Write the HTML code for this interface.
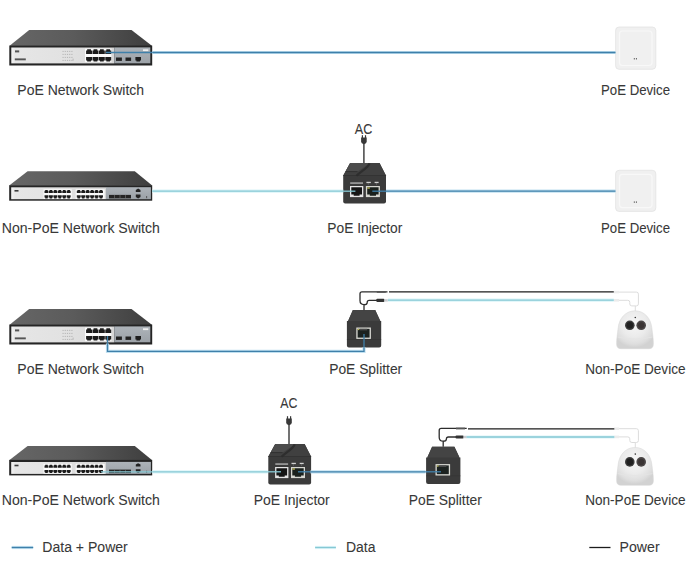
<!DOCTYPE html>
<html><head><meta charset="utf-8">
<style>
html,body{margin:0;padding:0;background:#fff;width:696px;height:583px;overflow:hidden}
svg{display:block}
text{font-family:"Liberation Sans",sans-serif;font-size:14px;fill:#383838;stroke:#383838;stroke-width:0.08px}
</style></head><body>
<svg width="696" height="583" viewBox="0 0 696 583">
<defs>
<linearGradient id="topg" x1="0" y1="0" x2="1" y2="0">
<stop offset="0" stop-color="#666666"/><stop offset="0.45" stop-color="#5b5b5b"/><stop offset="1" stop-color="#3e3e3e"/>
</linearGradient>
<linearGradient id="silver" x1="0" y1="0" x2="1" y2="0">
<stop offset="0" stop-color="#f4f4f4"/><stop offset="0.04" stop-color="#e6e6e6"/><stop offset="0.5" stop-color="#e2e2e2"/><stop offset="1" stop-color="#d6d6d6"/>
</linearGradient>
<linearGradient id="grayp" x1="0" y1="0" x2="0" y2="1">
<stop offset="0" stop-color="#adb3b9"/><stop offset="1" stop-color="#9ca2a8"/>
</linearGradient>
<radialGradient id="dome" cx="0.48" cy="0.35" r="0.62">
<stop offset="0" stop-color="#f6f6f6"/><stop offset="0.55" stop-color="#ebebeb"/><stop offset="0.85" stop-color="#dedede"/><stop offset="1" stop-color="#d2d2d2"/>
</radialGradient>
</defs>
<g><polygon points="29.2,30.1 131.5,30.1 152.2,46.1 9.3,46.1" fill="url(#topg)"/>
<rect x="9.3" y="45.6" width="142.9" height="19.9" fill="#252525"/>
<rect x="11.3" y="47.5" width="103" height="15.9" fill="url(#silver)"/>
<rect x="114.3" y="47.4" width="36" height="15.9" fill="url(#grayp)"/>
<rect x="85" y="48.6" width="26.4" height="13.6" fill="#fbfbfb"/>
<path d="M86.10,50.40 H87.16 V49.30 H90.94 V50.40 H92.00 V54.00 H86.10 Z" fill="#1c1c1c"/>
<path d="M86.10,57.00 H92.00 V60.50 H90.94 V61.60 H87.16 V60.50 H86.10 Z" fill="#1c1c1c"/>
<path d="M92.50,50.40 H93.56 V49.30 H97.34 V50.40 H98.40 V54.00 H92.50 Z" fill="#1c1c1c"/>
<path d="M92.50,57.00 H98.40 V60.50 H97.34 V61.60 H93.56 V60.50 H92.50 Z" fill="#1c1c1c"/>
<path d="M98.90,50.40 H99.96 V49.30 H103.74 V50.40 H104.80 V54.00 H98.90 Z" fill="#1c1c1c"/>
<path d="M98.90,57.00 H104.80 V60.50 H103.74 V61.60 H99.96 V60.50 H98.90 Z" fill="#1c1c1c"/>
<path d="M105.30,50.40 H106.36 V49.30 H110.14 V50.40 H111.20 V54.00 H105.30 Z" fill="#1c1c1c"/>
<path d="M105.30,57.00 H111.20 V60.50 H110.14 V61.60 H106.36 V60.50 H105.30 Z" fill="#1c1c1c"/>
<rect x="116" y="57.5" width="5.9" height="3.4" fill="#222"/>
<rect x="125.5" y="57.5" width="5.6" height="3.4" fill="#222"/>
<path d="M135.40,56.90 H141.00 V60.40 H139.99 V61.50 H136.41 V60.40 H135.40 Z" fill="#1e1e1e"/>
<rect x="143" y="49.3" width="5.3" height="1.8" fill="#f0f0f0"/>
<rect x="15" y="50.4" width="4.2" height="2" fill="#555"/>
<rect x="14.8" y="58.4" width="11" height="1.9" fill="#555"/>
<rect x="62.5" y="50.9" width="1.2" height="0.9" fill="#b0b0b0"/>
<rect x="64.7" y="50.9" width="1.2" height="0.9" fill="#b0b0b0"/>
<rect x="66.9" y="50.9" width="1.2" height="0.9" fill="#b0b0b0"/>
<rect x="69.1" y="50.9" width="1.2" height="0.9" fill="#b0b0b0"/>
<rect x="71.3" y="50.9" width="1.2" height="0.9" fill="#b0b0b0"/>
<rect x="62.5" y="53.9" width="1.2" height="0.9" fill="#b0b0b0"/>
<rect x="64.7" y="53.9" width="1.2" height="0.9" fill="#b0b0b0"/>
<rect x="66.9" y="53.9" width="1.2" height="0.9" fill="#b0b0b0"/>
<rect x="69.1" y="53.9" width="1.2" height="0.9" fill="#b0b0b0"/>
<rect x="71.3" y="53.9" width="1.2" height="0.9" fill="#b0b0b0"/>
<rect x="62.5" y="56.9" width="1.2" height="0.9" fill="#b0b0b0"/>
<rect x="64.7" y="56.9" width="1.2" height="0.9" fill="#b0b0b0"/>
<rect x="66.9" y="56.9" width="1.2" height="0.9" fill="#b0b0b0"/>
<rect x="69.1" y="56.9" width="1.2" height="0.9" fill="#b0b0b0"/>
<rect x="71.3" y="56.9" width="1.2" height="0.9" fill="#b0b0b0"/>
<rect x="62.5" y="59.9" width="1.2" height="0.9" fill="#b0b0b0"/>
<rect x="64.7" y="59.9" width="1.2" height="0.9" fill="#b0b0b0"/>
<rect x="66.9" y="59.9" width="1.2" height="0.9" fill="#b0b0b0"/>
<rect x="69.1" y="59.9" width="1.2" height="0.9" fill="#b0b0b0"/>
<rect x="71.3" y="59.9" width="1.2" height="0.9" fill="#b0b0b0"/>
<rect x="72.6" y="58.6" width="1" height="2.2" fill="#b8b8b8"/></g>
<g><rect x="615.6" y="27" width="40.2" height="42.3" rx="3.5" fill="#f0f0f0" stroke="#e2e2e2" stroke-width="0.8"/>
<rect x="619.5" y="31" width="32.5" height="34.5" rx="3" fill="none" stroke="#f8f8f8" stroke-width="1.2"/>
<rect x="633.8" y="58.2" width="1.1" height="1.2" fill="#505050"/><rect x="635.9" y="58.2" width="1.1" height="1.2" fill="#505050"/></g>
<line x1="106" y1="52.5" x2="152.2" y2="52.5" stroke="#3f80aa" stroke-width="1.3"/>
<line x1="152.2" y1="52.5" x2="615.5" y2="52.5" stroke="#c0e0f0" stroke-width="3.2"/><line x1="152.2" y1="52.5" x2="615.5" y2="52.5" stroke="#3f80aa" stroke-width="1.3"/>
<text x="17.3" y="94.7" textLength="126.8" lengthAdjust="spacingAndGlyphs">PoE Network Switch</text>
<text x="601" y="94.7" textLength="69" lengthAdjust="spacingAndGlyphs">PoE Device</text>
<g><polygon points="27.6,171.3 134.8,171.3 152.2,185.5 9.2,185.5" fill="url(#topg)"/>
<rect x="9.2" y="185.2" width="143" height="15.5" fill="#252525"/>
<rect x="11.2" y="187.3" width="95" height="11.9" fill="url(#silver)"/>
<rect x="106" y="187.2" width="44.9" height="12" fill="url(#grayp)"/>
<rect x="43.5" y="189.2" width="28.2" height="9.8" fill="#fafafa"/>
<rect x="75.7" y="189.2" width="29" height="9.8" fill="#fafafa"/>
<path d="M44.50,190.80 H45.20 V190.00 H47.70 V190.80 H48.40 V193.00 H44.50 Z" fill="#1c1c1c"/>
<path d="M44.50,195.30 H48.40 V197.60 H47.70 V198.40 H45.20 V197.60 H44.50 Z" fill="#1c1c1c"/>
<path d="M48.95,190.80 H49.65 V190.00 H52.15 V190.80 H52.85 V193.00 H48.95 Z" fill="#1c1c1c"/>
<path d="M48.95,195.30 H52.85 V197.60 H52.15 V198.40 H49.65 V197.60 H48.95 Z" fill="#1c1c1c"/>
<path d="M53.40,190.80 H54.10 V190.00 H56.60 V190.80 H57.30 V193.00 H53.40 Z" fill="#1c1c1c"/>
<path d="M53.40,195.30 H57.30 V197.60 H56.60 V198.40 H54.10 V197.60 H53.40 Z" fill="#1c1c1c"/>
<path d="M57.85,190.80 H58.55 V190.00 H61.05 V190.80 H61.75 V193.00 H57.85 Z" fill="#1c1c1c"/>
<path d="M57.85,195.30 H61.75 V197.60 H61.05 V198.40 H58.55 V197.60 H57.85 Z" fill="#1c1c1c"/>
<path d="M62.30,190.80 H63.00 V190.00 H65.50 V190.80 H66.20 V193.00 H62.30 Z" fill="#1c1c1c"/>
<path d="M62.30,195.30 H66.20 V197.60 H65.50 V198.40 H63.00 V197.60 H62.30 Z" fill="#1c1c1c"/>
<path d="M66.75,190.80 H67.45 V190.00 H69.95 V190.80 H70.65 V193.00 H66.75 Z" fill="#1c1c1c"/>
<path d="M66.75,195.30 H70.65 V197.60 H69.95 V198.40 H67.45 V197.60 H66.75 Z" fill="#1c1c1c"/>
<path d="M76.80,190.80 H77.50 V190.00 H80.00 V190.80 H80.70 V193.00 H76.80 Z" fill="#1c1c1c"/>
<path d="M76.80,195.30 H80.70 V197.60 H80.00 V198.40 H77.50 V197.60 H76.80 Z" fill="#1c1c1c"/>
<path d="M81.25,190.80 H81.95 V190.00 H84.45 V190.80 H85.15 V193.00 H81.25 Z" fill="#1c1c1c"/>
<path d="M81.25,195.30 H85.15 V197.60 H84.45 V198.40 H81.95 V197.60 H81.25 Z" fill="#1c1c1c"/>
<path d="M85.70,190.80 H86.40 V190.00 H88.90 V190.80 H89.60 V193.00 H85.70 Z" fill="#1c1c1c"/>
<path d="M85.70,195.30 H89.60 V197.60 H88.90 V198.40 H86.40 V197.60 H85.70 Z" fill="#1c1c1c"/>
<path d="M90.15,190.80 H90.85 V190.00 H93.35 V190.80 H94.05 V193.00 H90.15 Z" fill="#1c1c1c"/>
<path d="M90.15,195.30 H94.05 V197.60 H93.35 V198.40 H90.85 V197.60 H90.15 Z" fill="#1c1c1c"/>
<path d="M94.60,190.80 H95.30 V190.00 H97.80 V190.80 H98.50 V193.00 H94.60 Z" fill="#1c1c1c"/>
<path d="M94.60,195.30 H98.50 V197.60 H97.80 V198.40 H95.30 V197.60 H94.60 Z" fill="#1c1c1c"/>
<path d="M99.05,190.80 H99.75 V190.00 H102.25 V190.80 H102.95 V193.00 H99.05 Z" fill="#1c1c1c"/>
<path d="M99.05,195.30 H102.95 V197.60 H102.25 V198.40 H99.75 V197.60 H99.05 Z" fill="#1c1c1c"/>
<rect x="109" y="194.9" width="22" height="3.5" fill="#242424"/>
<rect x="114.2" y="194.9" width="0.6" height="3.5" fill="#777"/>
<rect x="119.7" y="194.9" width="0.6" height="3.5" fill="#777"/>
<rect x="125.2" y="194.9" width="0.6" height="3.5" fill="#777"/>
<path d="M135.8,191.9 H140.5 V189.9 L138.15,188.5 L135.8,189.9 Z" fill="#222"/>
<path d="M135.8,194.5 H140.5 V197 L138.15,198.4 L135.8,197 Z" fill="#222"/>
<rect x="146.3" y="196" width="0.8" height="2.2" fill="#444"/>
<rect x="14.5" y="190" width="4" height="1.6" fill="#3a3a3a"/></g>
<g><path d="M363.9,142 V163.5" stroke="#444" stroke-width="1.5" fill="none"/>
<path d="M361.1,137.6 H366.7 V141.8 Q366.7,143.6 363.9,144.2 Q361.1,143.6 361.1,141.8 Z" fill="#383838"/>
<rect x="361.8" y="135.2" width="1.2" height="2.8" fill="#3a3a3a"/><rect x="364.9" y="135.2" width="1.2" height="2.8" fill="#3a3a3a"/>
<path d="M350.3,163.1 H379.6 L386,175.6 V201.6 Q386,203.6 384,203.6 H345.2 Q343.2,203.6 343.2,201.6 V175.6 Z" fill="#3b3b3b"/>
<path d="M350.1,163.1 H379.4 L386,175.8 H343.2 Z" fill="#404040"/>
<path d="M350.1,163.1 H369.5 C366.5,166 360.5,169.5 357.5,171.6 H345.6 Z" fill="#4c4c4c"/>
<path d="M345.6,171.6 H357.5" stroke="#2c2c2c" stroke-width="0.8"/>
<path d="M369.5,163.3 C368,168 361,171 356.5,175.8" stroke="#2e2e2e" stroke-width="2.2" fill="none"/>
<rect x="343.2" y="175.3" width="42.8" height="0.6" fill="#2c2c2c"/>
<rect x="350" y="186" width="13.3" height="11.1" fill="#e4e4e4"/>
<path d="M351.3,187.3 H362 V194.6 H359.6 V195.8 H353.7 V194.6 H351.3 Z" fill="#151515"/>
<rect x="365.9" y="186" width="14" height="11.1" fill="#d6d6d0"/>
<path d="M367.2,187.3 H378.6 V194.6 H376 V195.8 H369.8 V194.6 H367.2 Z" fill="#1a201c"/>
<rect x="367.2" y="187.3" width="2.6" height="1.4" fill="#b8b45a"/>
<g fill="#d0d0d0"><rect x="350.2" y="182.5" width="12.8" height="1.1"/><rect x="366.4" y="181.8" width="4.4" height="1.3"/><rect x="374.6" y="181.8" width="4" height="1.3"/></g><g fill="#888"><rect x="367.8" y="183.6" width="1" height="0.8"/><rect x="376" y="183.6" width="1" height="0.8"/></g></g>
<g><rect x="615.6" y="170.3" width="40.2" height="41.1" rx="3.5" fill="#f0f0f0" stroke="#e2e2e2" stroke-width="0.8"/>
<rect x="619.5" y="174.3" width="32.5" height="33.300000000000004" rx="3" fill="none" stroke="#f8f8f8" stroke-width="1.2"/>
<rect x="633.8" y="201.5" width="1.1" height="1.2" fill="#505050"/><rect x="635.9" y="201.5" width="1.1" height="1.2" fill="#505050"/></g>
<line x1="152.2" y1="191.2" x2="343.2" y2="191.2" stroke="#daf4f8" stroke-width="3.2"/><line x1="152.2" y1="191.2" x2="343.2" y2="191.2" stroke="#86c8d4" stroke-width="1.3"/>
<line x1="343.2" y1="191.2" x2="355.4" y2="191.2" stroke="#86c8d4" stroke-width="1.3"/>
<line x1="372.3" y1="191.2" x2="386" y2="191.2" stroke="#3f80aa" stroke-width="1.3"/>
<line x1="386" y1="191.2" x2="615.5" y2="191.2" stroke="#c0e0f0" stroke-width="3.2"/><line x1="386" y1="191.2" x2="615.5" y2="191.2" stroke="#3f80aa" stroke-width="1.3"/>
<text x="354.8" y="133.9" textLength="17.5" lengthAdjust="spacingAndGlyphs">AC</text>
<text x="1.8" y="233.3" textLength="158" lengthAdjust="spacingAndGlyphs">Non-PoE Network Switch</text>
<text x="327.3" y="232.8" textLength="75" lengthAdjust="spacingAndGlyphs">PoE Injector</text>
<text x="601" y="232.6" textLength="69" lengthAdjust="spacingAndGlyphs">PoE Device</text>
<g transform="translate(0,279)"><polygon points="29.2,30.1 131.5,30.1 152.2,46.1 9.3,46.1" fill="url(#topg)"/>
<rect x="9.3" y="45.6" width="142.9" height="19.9" fill="#252525"/>
<rect x="11.3" y="47.5" width="103" height="15.9" fill="url(#silver)"/>
<rect x="114.3" y="47.4" width="36" height="15.9" fill="url(#grayp)"/>
<rect x="85" y="48.6" width="26.4" height="13.6" fill="#fbfbfb"/>
<path d="M86.10,50.40 H87.16 V49.30 H90.94 V50.40 H92.00 V54.00 H86.10 Z" fill="#1c1c1c"/>
<path d="M86.10,57.00 H92.00 V60.50 H90.94 V61.60 H87.16 V60.50 H86.10 Z" fill="#1c1c1c"/>
<path d="M92.50,50.40 H93.56 V49.30 H97.34 V50.40 H98.40 V54.00 H92.50 Z" fill="#1c1c1c"/>
<path d="M92.50,57.00 H98.40 V60.50 H97.34 V61.60 H93.56 V60.50 H92.50 Z" fill="#1c1c1c"/>
<path d="M98.90,50.40 H99.96 V49.30 H103.74 V50.40 H104.80 V54.00 H98.90 Z" fill="#1c1c1c"/>
<path d="M98.90,57.00 H104.80 V60.50 H103.74 V61.60 H99.96 V60.50 H98.90 Z" fill="#1c1c1c"/>
<path d="M105.30,50.40 H106.36 V49.30 H110.14 V50.40 H111.20 V54.00 H105.30 Z" fill="#1c1c1c"/>
<path d="M105.30,57.00 H111.20 V60.50 H110.14 V61.60 H106.36 V60.50 H105.30 Z" fill="#1c1c1c"/>
<rect x="116" y="57.5" width="5.9" height="3.4" fill="#222"/>
<rect x="125.5" y="57.5" width="5.6" height="3.4" fill="#222"/>
<path d="M135.40,56.90 H141.00 V60.40 H139.99 V61.50 H136.41 V60.40 H135.40 Z" fill="#1e1e1e"/>
<rect x="143" y="49.3" width="5.3" height="1.8" fill="#f0f0f0"/>
<rect x="15" y="50.4" width="4.2" height="2" fill="#555"/>
<rect x="14.8" y="58.4" width="11" height="1.9" fill="#555"/>
<rect x="62.5" y="50.9" width="1.2" height="0.9" fill="#b0b0b0"/>
<rect x="64.7" y="50.9" width="1.2" height="0.9" fill="#b0b0b0"/>
<rect x="66.9" y="50.9" width="1.2" height="0.9" fill="#b0b0b0"/>
<rect x="69.1" y="50.9" width="1.2" height="0.9" fill="#b0b0b0"/>
<rect x="71.3" y="50.9" width="1.2" height="0.9" fill="#b0b0b0"/>
<rect x="62.5" y="53.9" width="1.2" height="0.9" fill="#b0b0b0"/>
<rect x="64.7" y="53.9" width="1.2" height="0.9" fill="#b0b0b0"/>
<rect x="66.9" y="53.9" width="1.2" height="0.9" fill="#b0b0b0"/>
<rect x="69.1" y="53.9" width="1.2" height="0.9" fill="#b0b0b0"/>
<rect x="71.3" y="53.9" width="1.2" height="0.9" fill="#b0b0b0"/>
<rect x="62.5" y="56.9" width="1.2" height="0.9" fill="#b0b0b0"/>
<rect x="64.7" y="56.9" width="1.2" height="0.9" fill="#b0b0b0"/>
<rect x="66.9" y="56.9" width="1.2" height="0.9" fill="#b0b0b0"/>
<rect x="69.1" y="56.9" width="1.2" height="0.9" fill="#b0b0b0"/>
<rect x="71.3" y="56.9" width="1.2" height="0.9" fill="#b0b0b0"/>
<rect x="62.5" y="59.9" width="1.2" height="0.9" fill="#b0b0b0"/>
<rect x="64.7" y="59.9" width="1.2" height="0.9" fill="#b0b0b0"/>
<rect x="66.9" y="59.9" width="1.2" height="0.9" fill="#b0b0b0"/>
<rect x="69.1" y="59.9" width="1.2" height="0.9" fill="#b0b0b0"/>
<rect x="71.3" y="59.9" width="1.2" height="0.9" fill="#b0b0b0"/>
<rect x="72.6" y="58.6" width="1" height="2.2" fill="#b8b8b8"/></g>
<g><path d="M352.9,310.1 H375.2 L380.3,320.9 H381.2 V345.5 Q381.2,347.5 379.2,347.5 H348.9 Q346.9,347.5 346.9,345.5 V320.9 H348.1 Z" fill="#3b3b3b"/>
<path d="M352.9,310.1 H375.2 L380.3,320.9 H348.1 Z" fill="#444444"/>
<rect x="346.9" y="339" width="34.3" height="0.6" fill="#333"/>
<rect x="356.3" y="327.5" width="14.6" height="11.4" fill="#dcdcd6"/>
<path d="M357.6,328.8 H369.6 V337.6 H357.6 Z" fill="#1c2220"/>
<path d="M360,328.8 H367.2 V330.4 H360 Z" fill="#4a4a4a"/>
<rect x="357.6" y="328.8" width="1.8" height="1.3" fill="#b8b45a"/>
<path d="M364,310.2 V304.6 M364,304.6 Q360,304.6 360,300.6 V293.8 Q360,291.8 362,291.8 H387.5 M364,304.6 Q367.2,304.6 367.2,302.4 Q367.2,300.4 369.2,300.4 H377" stroke="#2c2c2c" stroke-width="1.3" fill="none"/>
<rect x="376.3" y="298.8" width="8.2" height="3.1" rx="1" fill="#333"/>
<rect x="376.8" y="291" width="9" height="1.8" fill="#555"/>
<rect x="384.3" y="299.2" width="3.5" height="2.4" fill="#c8ccd0"/></g>
<g><path d="M635,310.8 C644.5,310.8 650.8,318.5 651.8,327.5 C652.6,334 653.5,339.5 653.4,344.3 Q653.2,348.7 649.2,348.7 H620.8 Q616.8,348.7 616.6,344.3 C616.5,339.5 617.4,334 618.2,327.5 C619.2,318.5 625.5,310.8 635,310.8 Z" fill="url(#dome)" stroke="#d6d6d6" stroke-width="0.5"/>
<path d="M617.5,337 Q635,341 652.5,337" stroke="#e4e4e4" stroke-width="0.8" fill="none"/>
<circle cx="629.8" cy="325.3" r="4.8" fill="#3a3a3a"/>
<circle cx="629.8" cy="325.3" r="3.3" fill="#202020"/>
<circle cx="641.2" cy="325.3" r="4.8" fill="#4a4646"/>
<circle cx="641.2" cy="325.3" r="3.1" fill="#3a3434"/>
<circle cx="635.3" cy="317.5" r="0.8" fill="#333"/>
<path d="M613.8,292.1 H636.4 Q638.4,292.1 638.4,294.1 V303.9 Q638.4,305.9 636.4,305.9 H635.3 V311 M613.8,300.3 H627.8 Q629.8,300.3 629.8,302.3 V303.9 Q629.8,305.9 631.8,305.9 H635.3" stroke="#dcdcdc" stroke-width="1" fill="none"/>
<rect x="614" y="290.9" width="5" height="2.4" fill="#ececec"/>
<rect x="614" y="299" width="5" height="2.6" fill="#ececec"/></g>
<path d="M107.5,343.5 V351.3 H364 V347.5" stroke="#c0e0f0" stroke-width="3.2" fill="none"/><path d="M107.5,343.5 V351.3 H364 V347.5" stroke="#3f80aa" stroke-width="1.3" fill="none"/>
<path d="M107.5,336 V343.5" stroke="#3f80aa" stroke-width="1.3" fill="none"/>
<path d="M364,347.5 V334" stroke="#3f80aa" stroke-width="1.3" fill="none"/>
<line x1="389" y1="291.9" x2="613.8" y2="291.9" stroke="#1c1c1c" stroke-width="1.3"/>
<line x1="388" y1="300.2" x2="613.8" y2="300.2" stroke="#daf4f8" stroke-width="3.2"/><line x1="388" y1="300.2" x2="613.8" y2="300.2" stroke="#86c8d4" stroke-width="1.3"/>
<text x="17.3" y="373.7" textLength="126.8" lengthAdjust="spacingAndGlyphs">PoE Network Switch</text>
<text x="329.2" y="373.8" textLength="73" lengthAdjust="spacingAndGlyphs">PoE Splitter</text>
<text x="585.2" y="373.7" textLength="100.3" lengthAdjust="spacingAndGlyphs">Non-PoE Device</text>
<g transform="translate(0,274.7)"><polygon points="27.6,171.3 134.8,171.3 152.2,185.5 9.2,185.5" fill="url(#topg)"/>
<rect x="9.2" y="185.2" width="143" height="15.5" fill="#252525"/>
<rect x="11.2" y="187.3" width="95" height="11.9" fill="url(#silver)"/>
<rect x="106" y="187.2" width="44.9" height="12" fill="url(#grayp)"/>
<rect x="43.5" y="189.2" width="28.2" height="9.8" fill="#fafafa"/>
<rect x="75.7" y="189.2" width="29" height="9.8" fill="#fafafa"/>
<path d="M44.50,190.80 H45.20 V190.00 H47.70 V190.80 H48.40 V193.00 H44.50 Z" fill="#1c1c1c"/>
<path d="M44.50,195.30 H48.40 V197.60 H47.70 V198.40 H45.20 V197.60 H44.50 Z" fill="#1c1c1c"/>
<path d="M48.95,190.80 H49.65 V190.00 H52.15 V190.80 H52.85 V193.00 H48.95 Z" fill="#1c1c1c"/>
<path d="M48.95,195.30 H52.85 V197.60 H52.15 V198.40 H49.65 V197.60 H48.95 Z" fill="#1c1c1c"/>
<path d="M53.40,190.80 H54.10 V190.00 H56.60 V190.80 H57.30 V193.00 H53.40 Z" fill="#1c1c1c"/>
<path d="M53.40,195.30 H57.30 V197.60 H56.60 V198.40 H54.10 V197.60 H53.40 Z" fill="#1c1c1c"/>
<path d="M57.85,190.80 H58.55 V190.00 H61.05 V190.80 H61.75 V193.00 H57.85 Z" fill="#1c1c1c"/>
<path d="M57.85,195.30 H61.75 V197.60 H61.05 V198.40 H58.55 V197.60 H57.85 Z" fill="#1c1c1c"/>
<path d="M62.30,190.80 H63.00 V190.00 H65.50 V190.80 H66.20 V193.00 H62.30 Z" fill="#1c1c1c"/>
<path d="M62.30,195.30 H66.20 V197.60 H65.50 V198.40 H63.00 V197.60 H62.30 Z" fill="#1c1c1c"/>
<path d="M66.75,190.80 H67.45 V190.00 H69.95 V190.80 H70.65 V193.00 H66.75 Z" fill="#1c1c1c"/>
<path d="M66.75,195.30 H70.65 V197.60 H69.95 V198.40 H67.45 V197.60 H66.75 Z" fill="#1c1c1c"/>
<path d="M76.80,190.80 H77.50 V190.00 H80.00 V190.80 H80.70 V193.00 H76.80 Z" fill="#1c1c1c"/>
<path d="M76.80,195.30 H80.70 V197.60 H80.00 V198.40 H77.50 V197.60 H76.80 Z" fill="#1c1c1c"/>
<path d="M81.25,190.80 H81.95 V190.00 H84.45 V190.80 H85.15 V193.00 H81.25 Z" fill="#1c1c1c"/>
<path d="M81.25,195.30 H85.15 V197.60 H84.45 V198.40 H81.95 V197.60 H81.25 Z" fill="#1c1c1c"/>
<path d="M85.70,190.80 H86.40 V190.00 H88.90 V190.80 H89.60 V193.00 H85.70 Z" fill="#1c1c1c"/>
<path d="M85.70,195.30 H89.60 V197.60 H88.90 V198.40 H86.40 V197.60 H85.70 Z" fill="#1c1c1c"/>
<path d="M90.15,190.80 H90.85 V190.00 H93.35 V190.80 H94.05 V193.00 H90.15 Z" fill="#1c1c1c"/>
<path d="M90.15,195.30 H94.05 V197.60 H93.35 V198.40 H90.85 V197.60 H90.15 Z" fill="#1c1c1c"/>
<path d="M94.60,190.80 H95.30 V190.00 H97.80 V190.80 H98.50 V193.00 H94.60 Z" fill="#1c1c1c"/>
<path d="M94.60,195.30 H98.50 V197.60 H97.80 V198.40 H95.30 V197.60 H94.60 Z" fill="#1c1c1c"/>
<path d="M99.05,190.80 H99.75 V190.00 H102.25 V190.80 H102.95 V193.00 H99.05 Z" fill="#1c1c1c"/>
<path d="M99.05,195.30 H102.95 V197.60 H102.25 V198.40 H99.75 V197.60 H99.05 Z" fill="#1c1c1c"/>
<rect x="109" y="194.9" width="22" height="3.5" fill="#242424"/>
<rect x="114.2" y="194.9" width="0.6" height="3.5" fill="#777"/>
<rect x="119.7" y="194.9" width="0.6" height="3.5" fill="#777"/>
<rect x="125.2" y="194.9" width="0.6" height="3.5" fill="#777"/>
<path d="M135.8,191.9 H140.5 V189.9 L138.15,188.5 L135.8,189.9 Z" fill="#222"/>
<path d="M135.8,194.5 H140.5 V197 L138.15,198.4 L135.8,197 Z" fill="#222"/>
<rect x="146.3" y="196" width="0.8" height="2.2" fill="#444"/>
<rect x="14.5" y="190" width="4" height="1.6" fill="#3a3a3a"/></g>
<g transform="translate(-74.9,281)"><path d="M363.9,142 V163.5" stroke="#444" stroke-width="1.5" fill="none"/>
<path d="M361.1,137.6 H366.7 V141.8 Q366.7,143.6 363.9,144.2 Q361.1,143.6 361.1,141.8 Z" fill="#383838"/>
<rect x="361.8" y="135.2" width="1.2" height="2.8" fill="#3a3a3a"/><rect x="364.9" y="135.2" width="1.2" height="2.8" fill="#3a3a3a"/>
<path d="M350.3,163.1 H379.6 L386,175.6 V201.6 Q386,203.6 384,203.6 H345.2 Q343.2,203.6 343.2,201.6 V175.6 Z" fill="#3b3b3b"/>
<path d="M350.1,163.1 H379.4 L386,175.8 H343.2 Z" fill="#404040"/>
<path d="M350.1,163.1 H369.5 C366.5,166 360.5,169.5 357.5,171.6 H345.6 Z" fill="#4c4c4c"/>
<path d="M345.6,171.6 H357.5" stroke="#2c2c2c" stroke-width="0.8"/>
<path d="M369.5,163.3 C368,168 361,171 356.5,175.8" stroke="#2e2e2e" stroke-width="2.2" fill="none"/>
<rect x="343.2" y="175.3" width="42.8" height="0.6" fill="#2c2c2c"/>
<rect x="350" y="186" width="13.3" height="11.1" fill="#e4e4e4"/>
<path d="M351.3,187.3 H362 V194.6 H359.6 V195.8 H353.7 V194.6 H351.3 Z" fill="#151515"/>
<rect x="365.9" y="186" width="14" height="11.1" fill="#d6d6d0"/>
<path d="M367.2,187.3 H378.6 V194.6 H376 V195.8 H369.8 V194.6 H367.2 Z" fill="#1a201c"/>
<rect x="367.2" y="187.3" width="2.6" height="1.4" fill="#b8b45a"/>
<g fill="#d0d0d0"><rect x="350.2" y="182.5" width="12.8" height="1.1"/><rect x="366.4" y="181.8" width="4.4" height="1.3"/><rect x="374.6" y="181.8" width="4" height="1.3"/></g><g fill="#888"><rect x="367.8" y="183.6" width="1" height="0.8"/><rect x="376" y="183.6" width="1" height="0.8"/></g></g>
<g transform="translate(79.2,136.6)"><path d="M352.9,310.1 H375.2 L380.3,320.9 H381.2 V345.5 Q381.2,347.5 379.2,347.5 H348.9 Q346.9,347.5 346.9,345.5 V320.9 H348.1 Z" fill="#3b3b3b"/>
<path d="M352.9,310.1 H375.2 L380.3,320.9 H348.1 Z" fill="#444444"/>
<rect x="346.9" y="339" width="34.3" height="0.6" fill="#333"/>
<rect x="356.3" y="327.5" width="14.6" height="11.4" fill="#dcdcd6"/>
<path d="M357.6,328.8 H369.6 V337.6 H357.6 Z" fill="#1c2220"/>
<path d="M360,328.8 H367.2 V330.4 H360 Z" fill="#4a4a4a"/>
<rect x="357.6" y="328.8" width="1.8" height="1.3" fill="#b8b45a"/>
<path d="M364,310.2 V304.6 M364,304.6 Q360,304.6 360,300.6 V293.8 Q360,291.8 362,291.8 H387.5 M364,304.6 Q367.2,304.6 367.2,302.4 Q367.2,300.4 369.2,300.4 H377" stroke="#2c2c2c" stroke-width="1.3" fill="none"/>
<rect x="376.3" y="298.8" width="8.2" height="3.1" rx="1" fill="#333"/>
<rect x="376.8" y="291" width="9" height="1.8" fill="#555"/>
<rect x="384.3" y="299.2" width="3.5" height="2.4" fill="#c8ccd0"/></g>
<g transform="translate(0,136.6)"><path d="M635,310.8 C644.5,310.8 650.8,318.5 651.8,327.5 C652.6,334 653.5,339.5 653.4,344.3 Q653.2,348.7 649.2,348.7 H620.8 Q616.8,348.7 616.6,344.3 C616.5,339.5 617.4,334 618.2,327.5 C619.2,318.5 625.5,310.8 635,310.8 Z" fill="url(#dome)" stroke="#d6d6d6" stroke-width="0.5"/>
<path d="M617.5,337 Q635,341 652.5,337" stroke="#e4e4e4" stroke-width="0.8" fill="none"/>
<circle cx="629.8" cy="325.3" r="4.8" fill="#3a3a3a"/>
<circle cx="629.8" cy="325.3" r="3.3" fill="#202020"/>
<circle cx="641.2" cy="325.3" r="4.8" fill="#4a4646"/>
<circle cx="641.2" cy="325.3" r="3.1" fill="#3a3434"/>
<circle cx="635.3" cy="317.5" r="0.8" fill="#333"/>
<path d="M613.8,292.1 H636.4 Q638.4,292.1 638.4,294.1 V303.9 Q638.4,305.9 636.4,305.9 H635.3 V311 M613.8,300.3 H627.8 Q629.8,300.3 629.8,302.3 V303.9 Q629.8,305.9 631.8,305.9 H635.3" stroke="#dcdcdc" stroke-width="1" fill="none"/>
<rect x="614" y="290.9" width="5" height="2.4" fill="#ececec"/>
<rect x="614" y="299" width="5" height="2.6" fill="#ececec"/></g>
<line x1="101" y1="471.8" x2="152.2" y2="471.8" stroke="#86c8d4" stroke-width="1.3"/>
<line x1="152.2" y1="471.8" x2="267.7" y2="471.8" stroke="#daf4f8" stroke-width="3.2"/><line x1="152.2" y1="471.8" x2="267.7" y2="471.8" stroke="#86c8d4" stroke-width="1.3"/>
<line x1="267.7" y1="471.8" x2="281" y2="471.8" stroke="#86c8d4" stroke-width="1.3"/>
<line x1="298" y1="471.8" x2="310.5" y2="471.8" stroke="#3f80aa" stroke-width="1.3"/>
<line x1="310.5" y1="471.8" x2="425.5" y2="471.8" stroke="#c0e0f0" stroke-width="3.2"/><line x1="310.5" y1="471.8" x2="425.5" y2="471.8" stroke="#3f80aa" stroke-width="1.3"/>
<line x1="425.5" y1="471.8" x2="441" y2="471.8" stroke="#3f80aa" stroke-width="1.3"/>
<line x1="468" y1="428.9" x2="614.3" y2="428.9" stroke="#1c1c1c" stroke-width="1.3"/>
<line x1="466.6" y1="437.0" x2="614.3" y2="437.0" stroke="#daf4f8" stroke-width="3.2"/><line x1="466.6" y1="437.0" x2="614.3" y2="437.0" stroke="#86c8d4" stroke-width="1.3"/>
<text x="280.3" y="407.8" textLength="17.2" lengthAdjust="spacingAndGlyphs">AC</text>
<text x="1.8" y="504.7" textLength="158" lengthAdjust="spacingAndGlyphs">Non-PoE Network Switch</text>
<text x="253.7" y="504.7" textLength="76" lengthAdjust="spacingAndGlyphs">PoE Injector</text>
<text x="408.8" y="504.8" textLength="73" lengthAdjust="spacingAndGlyphs">PoE Splitter</text>
<text x="585.2" y="504.8" textLength="100.3" lengthAdjust="spacingAndGlyphs">Non-PoE Device</text>
<line x1="11.7" y1="547.5" x2="33.2" y2="547.5" stroke="#c0e0f0" stroke-width="3.2"/><line x1="11.7" y1="547.5" x2="33.2" y2="547.5" stroke="#3f80aa" stroke-width="1.3"/>
<text x="42.3" y="551.7" textLength="85.5" lengthAdjust="spacingAndGlyphs">Data + Power</text>
<line x1="315.1" y1="547.5" x2="335.9" y2="547.5" stroke="#daf4f8" stroke-width="3.2"/><line x1="315.1" y1="547.5" x2="335.9" y2="547.5" stroke="#86c8d4" stroke-width="1.3"/>
<text x="346" y="551.8" textLength="29.5" lengthAdjust="spacingAndGlyphs">Data</text>
<line x1="589.3" y1="547.5" x2="610.5" y2="547.5" stroke="#1c1c1c" stroke-width="1.3"/>
<text x="619.6" y="551.8" textLength="40" lengthAdjust="spacingAndGlyphs">Power</text>
</svg>
</body></html>
